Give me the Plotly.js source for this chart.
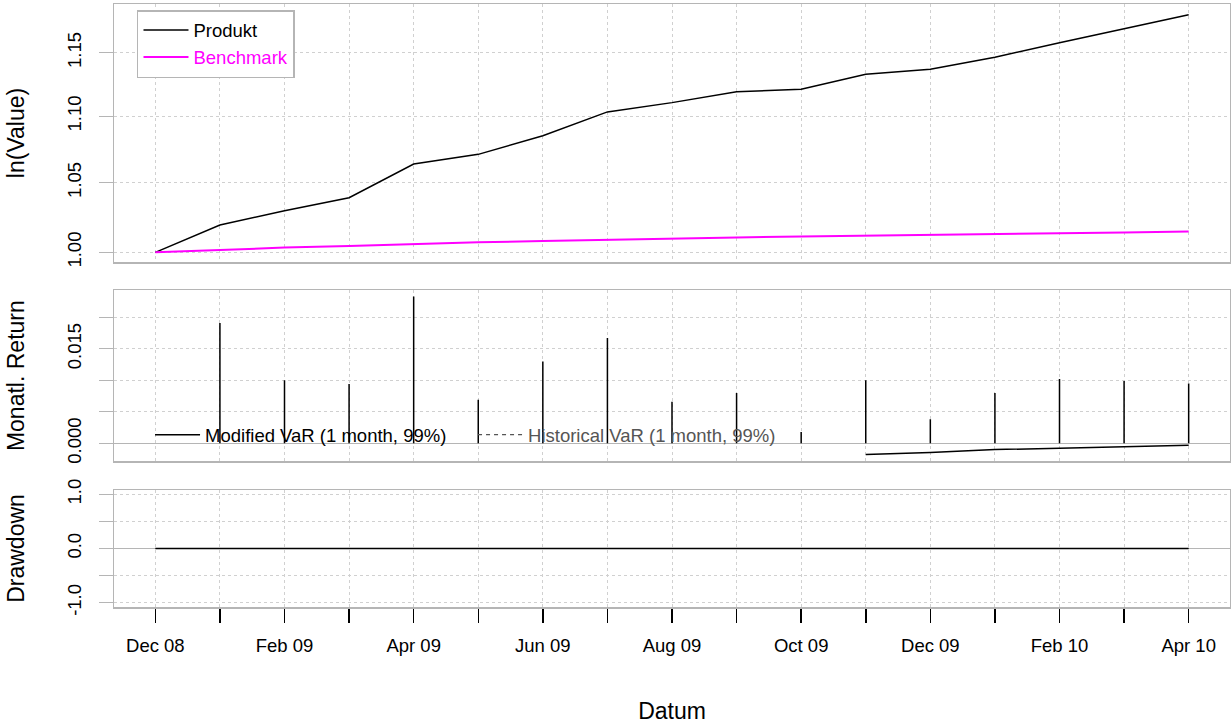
<!DOCTYPE html>
<html>
<head>
<meta charset="utf-8">
<script src="https://cdn.plot.ly/plotly-3.0.1.min.js"></script>
<style>html,body{margin:0;padding:0;background:#fff;}#chart{width:1231px;height:724px;}</style>
</head>
<body>
<div id="chart"></div>
<script>
// ---- data ----
const months = ['Dec 08','Jan 09','Feb 09','Mar 09','Apr 09','May 09','Jun 09','Jul 09','Aug 09',
                'Sep 09','Oct 09','Nov 09','Dec 09','Jan 10','Feb 10','Mar 10','Apr 10'];
const monthLabels = ['Dec 08','','Feb 09','','Apr 09','','Jun 09','','Aug 09',
                     '','Oct 09','','Dec 09','','Feb 10','','Apr 10'];
const produkt = [1.0000,1.0193,1.0296,1.0390,1.0638,1.0710,1.0850,1.1033,1.1105,
                 1.1190,1.1210,1.1327,1.1368,1.1463,1.1581,1.1696,1.1810];
const benchmark = [1.0000,1.0019,1.0033,1.0044,1.0058,1.0070,1.0079,1.0089,1.0096,
                   1.0105,1.0112,1.0119,1.0124,1.0131,1.0135,1.0140,1.0147];
const monthlyReturn = [null,0.0191,0.0100,0.0094,0.0233,0.0069,0.0130,0.0167,0.0066,
                       0.0080,0.0018,0.0100,0.0038,0.0080,0.0102,0.0099,0.0095];
const modifiedVaR = [null,null,null,null,null,null,null,null,null,null,null,
                     -0.00178,-0.00145,-0.00100,-0.00077,-0.00058,-0.00032];
const historicalVaR = months.map(() => null);
const drawdown = months.map(() => 0);
const topTicks = [1.00,1.05,1.10,1.15];
const topTickText = ['1.00','1.05','1.10','1.15'];
const midTicks = [0,0.005,0.010,0.015,0.020];
const midTickText = ['0.000','','','0.015',''];
const botTicks = [-1,-0.5,0,0.5,1];
const botTickText = ['-1.0','','0.0','','1.0'];

// spikes (type "h") built from the return series
const spikeX = [], spikeY = [];
months.forEach((m, i) => {
  if (monthlyReturn[i] !== null) { spikeX.push(m, m, null); spikeY.push(0, monthlyReturn[i], null); }
});

const FONT = 'Liberation Sans, Arial, Helvetica, sans-serif';
const BOX = '#b5b5b5';
const GRID = '#d0d0d0';
const TICKSIZE = 18.5;
const TITLESIZE = 23;

const traces = [
  {x: months, y: produkt, type: 'scatter', mode: 'lines', name: 'Produkt',
   line: {color: '#000000', width: 1.5}, xaxis: 'x', yaxis: 'y', legend: 'legend'},
  {x: months, y: benchmark, type: 'scatter', mode: 'lines',
   name: '<span style="color:#ff00ff">Benchmark</span>',
   line: {color: '#ff00ff', width: 2}, xaxis: 'x', yaxis: 'y', legend: 'legend'},
  {x: spikeX, y: spikeY, type: 'scatter', mode: 'lines', showlegend: false,
   line: {color: '#000000', width: 1.5}, xaxis: 'x2', yaxis: 'y2', hoverinfo: 'skip'},
  {x: months, y: modifiedVaR, type: 'scatter', mode: 'lines', name: 'Modified VaR (1 month, 99%)',
   line: {color: '#000000', width: 1.5}, xaxis: 'x2', yaxis: 'y2', legend: 'legend2'},
  {x: months, y: historicalVaR, type: 'scatter', mode: 'lines',
   name: '<span style="color:#555555">Historical VaR (1 month, 99%)</span>',
   line: {color: '#555555', width: 1.2, dash: '4px,4px'}, xaxis: 'x2', yaxis: 'y2', legend: 'legend2'},
  {x: months, y: drawdown, type: 'scatter', mode: 'lines', showlegend: false,
   line: {color: '#000000', width: 1.5}, xaxis: 'x3', yaxis: 'y3'}
];

function xax(anchor, showLabels) {
  const a = {
    type: 'category', anchor: anchor, range: [-0.64, 16.64], fixedrange: true,
    showgrid: true, gridcolor: GRID, griddash: 'dot', gridwidth: 1,
    showline: true, mirror: true, linecolor: BOX, linewidth: 1.5, zeroline: false,
    tickmode: 'array', tickvals: months, ticktext: monthLabels,
    showticklabels: showLabels, ticks: showLabels ? 'outside' : '',
    ticklen: 14, tickwidth: 1.5, tickcolor: '#000000', ticklabelstandoff: 7,
    tickfont: {family: FONT, size: TICKSIZE, color: '#000000'}
  };
  if (anchor !== 'y') a.matches = 'x';
  return a;
}
function yax(domain, extra) {
  return Object.assign({
    domain: domain, fixedrange: true,
    showgrid: true, gridcolor: GRID, griddash: 'dot', gridwidth: 1,
    showline: true, mirror: true, linecolor: BOX, linewidth: 1.5,
    ticks: 'outside', ticklen: 14, tickwidth: 1.3, tickcolor: BOX,
    tickangle: -90, tickmode: 'array', ticklabelstandoff: 10,
    tickfont: {family: FONT, size: TICKSIZE, color: '#000000'}
  }, extra);
}

const layout = {
  width: 1231, height: 724,
  margin: {l: 114, r: 1, t: 4, b: 117},
  paper_bgcolor: '#ffffff', plot_bgcolor: '#ffffff',
  font: {family: FONT, size: TICKSIZE, color: '#000000'},
  showlegend: true,
  xaxis: xax('y', false),
  xaxis2: xax('y2', false),
  xaxis3: Object.assign(xax('y3', true), {title: {text: 'Datum', font: {family: FONT, size: TITLESIZE}, standoff: 48}}),
  yaxis: yax([0.5721, 1.0], {type: 'log', range: [-0.00295, 0.07551], tickvals: topTicks, ticktext: topTickText,
    zeroline: false, title: {text: 'ln(Value)', font: {family: FONT, size: TITLESIZE}, standoff: 33}}),
  yaxis2: yax([0.2416, 0.5257], {range: [-0.00286, 0.02433], tickvals: midTicks, ticktext: midTickText,
    zeroline: true, zerolinecolor: BOX, zerolinewidth: 1.5,
    title: {text: 'Monatl. Return', font: {family: FONT, size: TITLESIZE}, standoff: 33}}),
  yaxis3: yax([0, 0.1940], {range: [-1.08, 1.08], tickvals: botTicks, ticktext: botTickText,
    zeroline: true, zerolinecolor: BOX, zerolinewidth: 1.5,
    title: {text: 'Drawdown', font: {family: FONT, size: TITLESIZE}, standoff: 33}}),
  legend: {x: 0.0206, y: 0.990, xanchor: 'left', yanchor: 'top', bgcolor: '#ffffff',
    bordercolor: BOX, borderwidth: 1.5, font: {family: FONT, size: TICKSIZE, color: '#000000'},
    itemwidth: 45, tracegroupgap: 2},
  legend2: {x: 0.0323, y: 0.285, xanchor: 'left', yanchor: 'middle', orientation: 'h',
    bgcolor: 'rgba(0,0,0,0)', borderwidth: 0, entrywidth: 263, entrywidthmode: 'pixels',
    itemwidth: 45, font: {family: FONT, size: TICKSIZE, color: '#000000'}}
};

Plotly.newPlot('chart', traces, layout, {staticPlot: true, displayModeBar: false});
</script>
</body>
</html>
